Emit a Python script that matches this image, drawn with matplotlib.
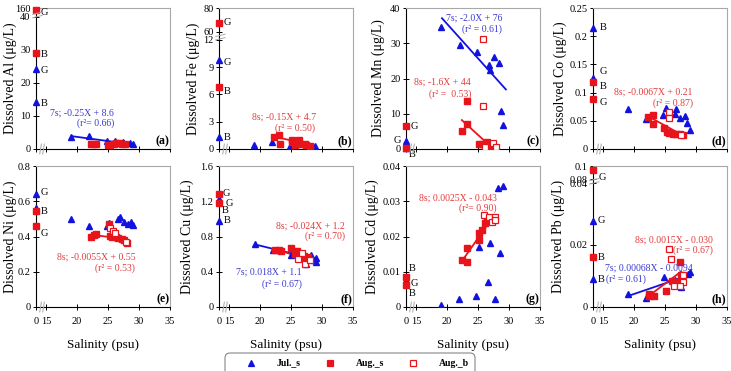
import matplotlib
matplotlib.use("Agg")
import matplotlib.pyplot as plt
from matplotlib.lines import Line2D
from matplotlib.patches import FancyBboxPatch
from matplotlib.transforms import IdentityTransform, ScaledTranslation

plt.rcParams["font.family"] = ["Liberation Serif", "DejaVu Serif"]

BLUE = "#1212e0"
RED = "#e8141c"
BLUE_TXT = "#3b3bd0"
RED_TXT = "#e23c3c"
GRAY = "#a8a8a8"

X_ZERO = 13.4   # where salinity 0 sits on the broken x axis
X_TICKS = [X_ZERO, 15, 20, 25, 30, 35]
X_LABELS = ["0", "15", "20", "25", "30", "35"]

# ---- Al ----
AL_RIV_JUL = [24.2, 14.3]
AL_RIV_AUG = [42.1, 29.2]
AL_JUL_S = [19.1, 22.0, 24.8, 26.2, 27.4, 28.5, 29.0]
AL_JUL_C = [3.7, 4.0, 2.4, 2.3, 2.0, 1.8, 1.5]
AL_AUG_S = [22.3, 22.7, 23.1, 25.0, 25.4, 25.9, 26.3, 26.8, 27.3, 27.7]
AL_AUG_C = [1.5, 1.4, 1.5, 1.2, 1.3, 1.5, 1.8, 1.9, 1.6, 1.4]
AL_FIT_JUL = ([19.1, 29.0], [3.9, 1.4])

# ---- Fe ----
FE_RIV_JUL = [9.75, 1.3]
FE_RIV_AUG = [13.9, 6.8]
FE_JUL_S = [19.0, 22.0, 24.8, 28.6, 28.9]
FE_JUL_C = [0.4, 0.8, 0.35, 0.25, 0.3]
FE_AUG_S = [22.3, 23.1, 23.2, 25.1, 25.2, 25.6, 26.3, 26.5, 27.3, 27.5, 28.0]
FE_AUG_C = [1.3, 1.55, 0.55, 0.8, 1.0, 0.45, 0.95, 0.6, 0.5, 0.45, 0.3]
FE_FIT_AUG = ([22.3, 28.0], [1.35, 0.5])

# ---- Mn ----
MN_RIV_JUL = [2.2, 0.2]
MN_RIV_AUG = [6.4, 0.3]
MN_JUL_S = [19.0, 22.1, 24.8, 26.7, 27.0, 27.6, 28.4, 28.7, 29.1]
MN_JUL_C = [34.5, 29.6, 27.6, 23.8, 22.4, 26.2, 24.5, 10.7, 6.7]
MN_AUG_S = [22.4, 23.2, 23.2, 25.1, 25.7, 26.4, 26.5, 27.3, 27.5]
MN_AUG_C = [5.2, 13.5, 7.1, 1.4, 1.4, 2.1, 0.7, 1.0, 0.5]
MN_AUGB_S = [25.8, 25.8, 26.1, 27.5, 27.9]
MN_AUGB_C = [31.2, 12.2, 0.5, 1.7, 0.7]
MN_FIT_JUL = ([19.2, 29.5], [37.1, 16.9])
MN_FIT_AUG = ([22.4, 26.5], [8.2, 1.6])

# ---- Co ----
CO_RIV_JUL = [0.2148, 0.126]
CO_RIV_AUG = [0.1185, 0.0889]
CO_JUL_S = [19.0, 21.9, 24.7, 25.1, 26.6, 26.8, 27.5, 28.2, 28.6, 29.0]
CO_JUL_C = [0.071, 0.053, 0.060, 0.073, 0.062, 0.071, 0.055, 0.059, 0.046, 0.034]
CO_AUG_S = [22.3, 23.1, 23.1, 24.9, 25.3, 25.7, 26.3, 26.8, 27.4, 27.9]
CO_AUG_C = [0.056, 0.060, 0.044, 0.037, 0.031, 0.028, 0.027, 0.026, 0.026, 0.025]
CO_AUGB_S = [25.6, 25.6, 27.6]
CO_AUGB_C = [0.065, 0.055, 0.025]
CO_FIT_AUG = ([22.3, 27.9], [0.058, 0.024])

# ---- Ni ----
NI_RIV_JUL = [0.641, 0.561]
NI_RIV_AUG = [0.546, 0.457]
NI_JUL_S = [19.0, 22.0, 24.8, 25.1, 26.6, 26.9, 27.6, 28.3, 28.7, 29.0]
NI_JUL_C = [0.497, 0.459, 0.462, 0.479, 0.499, 0.508, 0.484, 0.469, 0.48, 0.466]
NI_AUG_S = [22.3, 22.7, 23.1, 25.1, 25.3, 25.7, 26.3, 26.6, 27.3, 27.6, 28.0]
NI_AUG_C = [0.40, 0.41, 0.415, 0.47, 0.405, 0.40, 0.395, 0.39, 0.385, 0.38, 0.365]
NI_AUGB_S = [25.4, 25.8, 26.1, 27.9]
NI_AUGB_C = [0.45, 0.43, 0.42, 0.37]
NI_FIT_AUG = ([22.3, 28.0], [0.41, 0.385])

# ---- Cu ----
CU_RIV_JUL = [1.23, 0.974]
CU_RIV_AUG = [1.28, 1.175]
CU_JUL_S = [19.2, 22.1, 25.0, 27.4, 28.2, 28.7, 29.1, 29.0]
CU_JUL_C = [0.713, 0.644, 0.587, 0.49, 0.59, 0.53, 0.56, 0.51]
CU_AUG_S = [22.4, 23.1, 23.4, 25.0, 25.6, 25.9, 26.4, 27.1, 27.4, 27.8]
CU_AUG_C = [0.65, 0.65, 0.64, 0.675, 0.60, 0.63, 0.57, 0.58, 0.535, 0.57]
CU_AUGB_S = [26.1, 26.7, 27.2, 28.0]
CU_AUGB_C = [0.55, 0.61, 0.49, 0.53]
CU_FIT_JUL = ([19.2, 29.1], [0.71, 0.54])
CU_FIT_AUG = ([22.4, 28.0], [0.66, 0.53])

# ---- Cd ----
CD_RIV_JUL = [0.0078, 0.0069]
CD_RIV_AUG = [0.0084, 0.0061]
CD_JUL_S = [19.1, 22.0, 24.7, 25.1, 26.6, 26.9, 27.7, 28.3, 28.6, 29.0]
CD_JUL_C = [0.0006, 0.0023, 0.0031, 0.0169, 0.0070, 0.0181, 0.0023, 0.0337, 0.0152, 0.0344]
CD_AUG_S = [22.4, 23.2, 23.3, 25.1, 25.2, 25.7, 26.1, 26.5, 27.0, 27.4]
CD_AUG_C = [0.0134, 0.0129, 0.0168, 0.0209, 0.0189, 0.0218, 0.0238, 0.0248, 0.0244, 0.0248]
CD_AUGB_S = [25.9, 26.7, 27.3, 27.8, 27.8]
CD_AUGB_C = [0.026, 0.0256, 0.024, 0.0256, 0.0247]
CD_FIT_AUG = ([22.4, 27.4], [0.013, 0.0255])

# ---- Pb ----
PB_RIV_JUL = [0.0278, 0.0089]
PB_RIV_AUG = [0.0440, 0.016]
PB_JUL_S = [19.0, 22.0, 24.8, 26.6, 27.6, 28.7, 29.1]
PB_JUL_C = [0.0043, 0.0029, 0.0096, 0.0088, 0.0064, 0.0107, 0.0112]
PB_AUG_S = [22.4, 22.5, 23.2, 25.2, 26.2, 26.6, 26.9, 27.4, 27.6]
PB_AUG_C = [0.0043, 0.0036, 0.0036, 0.0053, 0.0085, 0.0075, 0.008, 0.0144, 0.0104]
PB_AUGB_S = [25.6, 26.0, 26.4, 27.9, 27.9, 27.4]
PB_AUGB_C = [0.0187, 0.0155, 0.0067, 0.0104, 0.0079, 0.0067]
PB_FIT_JUL = ([19.0, 29.1], [0.0035, 0.0104])
PB_FIT_AUG = ([22.4, 27.6], [0.0036, 0.0114])

PANELS = [
    dict(tag="(a)", metal="Al", ytop=42.7,
         yticks=[0, 10, 20, 30, 40, 42.7], ylabels=["0", "10", "20", "30", "40", "160"],
         ybreak=40.6,
         riv_jul=AL_RIV_JUL, riv_aug=AL_RIV_AUG,
         jul=(AL_JUL_S, AL_JUL_C), aug=(AL_AUG_S, AL_AUG_C), augb=None,
         fit_jul=AL_FIT_JUL, fit_aug=None,
         rlabels=[("G", 41.2, 5), ("B", 28.5, 5), ("G", 23.9, 5), ("B", 13.9, 5)],
         notes=[("7s; -0.25X + 8.6", 0.582, 0.255, BLUE_TXT, "right"),
                ("(r²= 0.66)", 0.582, 0.184, BLUE_TXT, "right")]),
    dict(tag="(b)", metal="Fe", ytop=15.5,
         yticks=[0, 3, 6, 9, 12, 12.9, 15.5], ylabels=["0", "3", "6", "9", "12", "60", "80"],
         ybreak=12.3,
         riv_jul=FE_RIV_JUL, riv_aug=FE_RIV_AUG,
         jul=(FE_JUL_S, FE_JUL_C), aug=(FE_AUG_S, FE_AUG_C), augb=None,
         fit_jul=None, fit_aug=FE_FIT_AUG,
         rlabels=[("G", 13.9, 5), ("G", 9.5, 5), ("B", 6.3, 5), ("B", 1.3, 5)],
         notes=[("8s; -0.15X + 4.7", 0.722, 0.227, RED_TXT, "right"),
                ("(r² = 0.50)", 0.716, 0.149, RED_TXT, "right")]),
    dict(tag="(c)", metal="Mn", ytop=40,
         yticks=[0, 10, 20, 30, 40], ylabels=["0", "10", "20", "30", "40"], ybreak=None,
         riv_jul=MN_RIV_JUL, riv_aug=MN_RIV_AUG,
         jul=(MN_JUL_S, MN_JUL_C), aug=(MN_AUG_S, MN_AUG_C), augb=(MN_AUGB_S, MN_AUGB_C),
         fit_jul=MN_FIT_JUL, fit_aug=MN_FIT_AUG,
         rlabels=[("G", 6.4, 5), ("G", 2.3, -12), ("B", -1.7, 3)],
         notes=[("7s; -2.0X + 76", 0.716, 0.929, BLUE_TXT, "right"),
                ("(r² = 0.61)", 0.716, 0.851, BLUE_TXT, "right"),
                ("8s; -1.6X + 44", 0.485, 0.475, RED_TXT, "right"),
                ("(r² =  0.53)", 0.485, 0.39, RED_TXT, "right")]),
    dict(tag="(d)", metal="Co", ytop=0.25,
         yticks=[0, 0.05, 0.1, 0.15, 0.2, 0.25], ylabels=["0", "0.05", "0.1", "0.15", "0.2", "0.25"],
         ybreak=None,
         riv_jul=CO_RIV_JUL, riv_aug=CO_RIV_AUG,
         jul=(CO_JUL_S, CO_JUL_C), aug=(CO_AUG_S, CO_AUG_C), augb=(CO_AUGB_S, CO_AUGB_C),
         fit_jul=None, fit_aug=CO_FIT_AUG,
         rlabels=[("B", 0.2148, 7), ("G", 0.137, 7), ("B", 0.110, 7), ("G", 0.082, 7)],
         notes=[("8s; -0.0067X + 0.21", 0.744, 0.404, RED_TXT, "right"),
                ("(r² = 0.87)", 0.744, 0.326, RED_TXT, "right")]),
    dict(tag="(e)", metal="Ni", ytop=0.8,
         yticks=[0, 0.2, 0.4, 0.6, 0.8], ylabels=["0", "0.2", "0.4", "0.6", "0.8"], ybreak=None,
         riv_jul=NI_RIV_JUL, riv_aug=NI_RIV_AUG,
         jul=(NI_JUL_S, NI_JUL_C), aug=(NI_AUG_S, NI_AUG_C), augb=(NI_AUGB_S, NI_AUGB_C),
         fit_jul=None, fit_aug=NI_FIT_AUG,
         rlabels=[("G", 0.65, 5), ("B", 0.542, 5), ("G", 0.415, 5)],
         notes=[("8s; -0.0055X + 0.55", 0.74, 0.357, RED_TXT, "right"),
                ("(r² = 0.53)", 0.74, 0.274, RED_TXT, "right")]),
    dict(tag="(f)", metal="Cu", ytop=1.6,
         yticks=[0, 0.4, 0.8, 1.2, 1.6], ylabels=["0", "0.4", "0.8", "1.2", "1.6"], ybreak=None,
         riv_jul=CU_RIV_JUL, riv_aug=CU_RIV_AUG,
         jul=(CU_JUL_S, CU_JUL_C), aug=(CU_AUG_S, CU_AUG_C), augb=(CU_AUGB_S, CU_AUGB_C),
         fit_jul=CU_FIT_JUL, fit_aug=CU_FIT_AUG,
         rlabels=[("G", 1.283, 4), ("G", 1.178, 7), ("B", 1.10, 3), ("B", 0.977, 5)],
         notes=[("8s; -0.024X + 1.2", 0.94, 0.577, RED_TXT, "right"),
                ("(r² = 0.70)", 0.94, 0.499, RED_TXT, "right"),
                ("7s; 0.018X + 1.1", 0.617, 0.246, BLUE_TXT, "right"),
                ("(r² = 0.67)", 0.617, 0.163, BLUE_TXT, "right")]),
    dict(tag="(g)", metal="Cd", ytop=0.04,
         yticks=[0, 0.01, 0.02, 0.03, 0.04], ylabels=["0", "0.01", "0.02", "0.03", "0.04"],
         ybreak=None,
         riv_jul=CD_RIV_JUL, riv_aug=CD_RIV_AUG,
         jul=(CD_JUL_S, CD_JUL_C), aug=(CD_AUG_S, CD_AUG_C), augb=(CD_AUGB_S, CD_AUGB_C),
         fit_jul=None, fit_aug=CD_FIT_AUG,
         rlabels=[("B", 0.0108, 3), ("G", 0.0068, 5), ("B", 0.0037, 3)],
         notes=[("8s; 0.0025X - 0.043", 0.677, 0.775, RED_TXT, "right"),
                ("(r²= 0.90)", 0.677, 0.70, RED_TXT, "right")]),
    dict(tag="(h)", metal="Pb", ytop=0.0454,
         yticks=[0, 0.02, 0.0398, 0.0412, 0.0454], ylabels=["0", "0.02", "0.04", "0.08", "0.1"],
         ybreak=0.0405,
         riv_jul=PB_RIV_JUL, riv_aug=PB_RIV_AUG,
         jul=(PB_JUL_S, PB_JUL_C), aug=(PB_AUG_S, PB_AUG_C), augb=(PB_AUGB_S, PB_AUGB_C),
         fit_jul=PB_FIT_JUL, fit_aug=PB_FIT_AUG,
         rlabels=[("G", 0.0417, 6), ("G", 0.0278, 5), ("B", 0.016, 5), ("B", 0.0089, 5)],
         notes=[("8s; 0.0015X - 0.030", 0.896, 0.475, RED_TXT, "right"),
                ("(r² = 0.67)", 0.896, 0.404, RED_TXT, "right"),
                ("7s; 0.00068X - 0.0094", 0.746, 0.274, BLUE_TXT, "right"),
                ("(r² = 0.61)", 0.098, 0.199, BLUE_TXT, "left")]),
]

FIG_W, FIG_H = 731, 371
LEFTS = [36, 219, 406, 593]
TOPS = [8, 166]
AX_W, AX_H = 134, 141
YLABEL_X = [[10, 193, 378, 560], [10, 187, 372, 558]]


def break_y(ax, yfrac):
    for dy in (-0.012, 0.012):
        ax.plot([-0.025, 0.045], [yfrac + dy - 0.008, yfrac + dy + 0.008],
                transform=ax.transAxes, color=GRAY, lw=0.7, clip_on=False, zorder=6)


def break_x(ax):
    for xf in (0.034, 0.056):
        ax.plot([xf - 0.006, xf + 0.006], [-0.035, 0.035],
                transform=ax.transAxes, color=GRAY, lw=0.7, clip_on=False, zorder=6)


def draw_panel(ax, p, bottom_row):
    ax.set_xlim(X_ZERO, 35)
    ax.set_ylim(0, p["ytop"])

    ax.plot(*p["jul"], linestyle="none", marker="^", ms=4.6, color=BLUE, zorder=3)
    ax.plot(*p["aug"], linestyle="none", marker="s", ms=4.6, color=RED, zorder=3)
    if p["augb"] is not None:
        ax.plot(*p["augb"], linestyle="none", marker="s", ms=4.6, mfc="white",
                mec=RED, mew=0.9, color=RED, zorder=3)
    if p["fit_jul"] is not None:
        ax.plot(*p["fit_jul"], color=BLUE, lw=1.3, zorder=2)
    if p["fit_aug"] is not None:
        ax.plot(*p["fit_aug"], color=RED, lw=1.3, zorder=2)

    ax.plot([X_ZERO] * len(p["riv_jul"]), p["riv_jul"], linestyle="none", marker="^",
            ms=4.6, color=BLUE, clip_on=False, zorder=5)
    ax.plot([X_ZERO] * len(p["riv_aug"]), p["riv_aug"], linestyle="none", marker="s",
            ms=4.6, color=RED, clip_on=False, zorder=5)

    for txt, yv, dx in p["rlabels"]:
        ax.annotate(txt, (X_ZERO, yv), xytext=(dx, 0), textcoords="offset pixels",
                    ha="left", va="center", fontsize=7.5, annotation_clip=False)

    for txt, xf, yf, col, ha in p["notes"]:
        ax.text(xf, yf, txt, transform=ax.transAxes, ha=ha, va="center",
                fontsize=7, color=col)

    ax.text(0.995, 0.015, p["tag"], transform=ax.transAxes, ha="right", va="bottom",
            fontsize=8.5, fontweight="bold")

    ax.set_yticks(p["yticks"])
    ax.set_yticklabels(p["ylabels"])
    ax.set_xticks(X_TICKS)
    if bottom_row:
        ax.set_xticklabels(X_LABELS)
        # the "15" label sits a little right of its tick in the original
        lab15 = ax.get_xticklabels()[1]
        lab15.set_transform(lab15.get_transform()
                            + ScaledTranslation(3 / 72, 0, ax.figure.dpi_scale_trans))
    else:
        ax.set_xticklabels([])

    ax.tick_params(direction="inout", length=5, width=0.7, labelsize=7.5,
                   top=False, right=False)
    ax.tick_params(axis="y", pad=1.5)
    ax.tick_params(axis="x", pad=5)
    for side in ("top", "right"):
        ax.spines[side].set_color(GRAY)
        ax.spines[side].set_linewidth(0.8)
    for side in ("left", "bottom"):
        ax.spines[side].set_color("black")
        ax.spines[side].set_linewidth(0.8)

    if p["ybreak"] is not None:
        break_y(ax, p["ybreak"] / p["ytop"])
    break_x(ax)


fig = plt.figure(figsize=(FIG_W / 100, FIG_H / 100), dpi=100)

for i, p in enumerate(PANELS):
    row, col = divmod(i, 4)
    left = LEFTS[col] / FIG_W
    bottom = (FIG_H - TOPS[row] - AX_H) / FIG_H
    ax = fig.add_axes([left, bottom, AX_W / FIG_W, AX_H / FIG_H])
    draw_panel(ax, p, row == 1)

    fig.text(YLABEL_X[row][col] / FIG_W, (FIG_H - TOPS[row] - AX_H / 2) / FIG_H,
             f"Dissolved {p['metal']} (μg/L)", rotation=90, ha="center", va="center",
             fontsize=10)
    if row == 1:
        fig.text((LEFTS[col] + AX_W / 2) / FIG_W, (FIG_H - 345) / FIG_H, "Salinity (psu)",
                 ha="center", va="center", fontsize=9.5)

# legend drawn by hand so it can run off the bottom edge like the original
box = FancyBboxPatch((225, -9), 250, 27, boxstyle="round,pad=0,rounding_size=5",
                     transform=IdentityTransform(), fc="white", ec="#888888", lw=0.8)
fig.add_artist(box)
legend_items = [
    ("^", BLUE, BLUE, "Jul._s", 251, 277),
    ("s", RED, RED, "Aug._s", 330, 356),
    ("s", "white", RED, "Aug._b", 413, 439),
]
for marker, face, edge, label, mx, tx in legend_items:
    fig.add_artist(Line2D([mx], [8], transform=IdentityTransform(), marker=marker,
                          ms=5, mfc=face, mec=edge, mew=0.9, linestyle="none"))
    fig.text(tx / FIG_W, 8 / FIG_H, label, ha="left", va="center", fontsize=7,
             fontweight="bold")

fig.savefig("out.png", dpi=100)
